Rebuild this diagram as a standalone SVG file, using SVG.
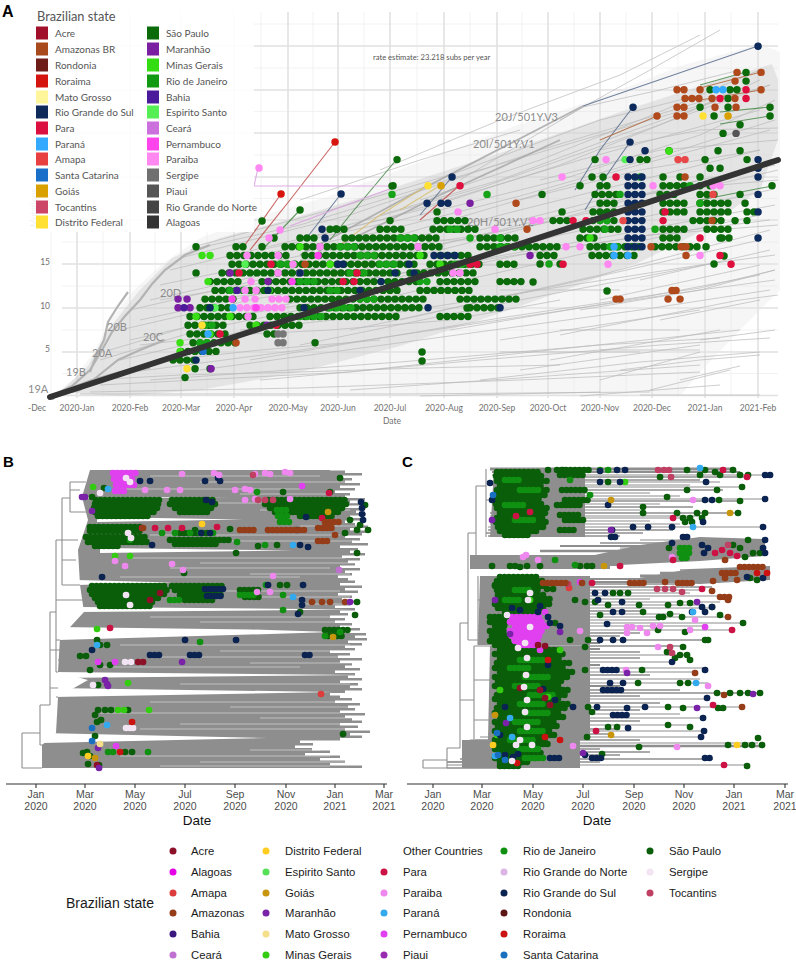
<svg xmlns="http://www.w3.org/2000/svg" width="796" height="960" viewBox="0 0 796 960">
<style>
.gl{stroke:#e1e1e1;stroke-width:1.6;fill:none}
.gm{stroke:#efefef;stroke-width:.8;fill:none}
.t{fill:none;stroke:#b9b9b9;stroke-width:.7}
.ax{font-family:Lato,"Liberation Sans",sans-serif;font-size:8.5px;fill:#707070}
.cl{font-family:Lato,"Liberation Sans",sans-serif;font-size:11px;fill:#8c8c8c}
.lg{font-family:Lato,"Liberation Sans",sans-serif;font-size:10px;fill:#555}
.pa{fill:none;stroke-linecap:round;stroke-width:7.4}
.sa{fill:none;stroke-linecap:round;stroke-width:7.4;stroke-dasharray:0 7}
.q{fill:none;stroke-linecap:round;stroke-width:6.6}
.r{fill:none;stroke-linecap:round;stroke-width:6.6;stroke-dasharray:0 4.5}
.tr{fill:#8e8e8e}
.sk{fill:none;stroke:#8e8e8e;stroke-width:1.1}
.cw{fill:none;stroke:#8e8e8e}
.bt{font-family:"Liberation Sans",Arial,sans-serif;font-size:10.5px;fill:#4d4d4d;text-anchor:middle}
.dt{font-family:"Liberation Sans",Arial,sans-serif;font-size:13.5px;fill:#111;text-anchor:middle}
.lt{font-family:"Liberation Sans",Arial,sans-serif;font-size:11.3px;fill:#1a1a1a}
.pl{font-family:"Liberation Sans",Arial,sans-serif;font-weight:bold;fill:#000}
</style>
<rect width="796" height="960" fill="#fff"/>

<g id="panelA">
<g id="gridA">
<path class="gm" d="M51 12V397M103 12V397M155 12V397M207 12V397M261 12V397M313 12V397M364 12V397M417 12V397M470 12V397M522 12V397M574 12V397M626 12V397M678 12V397M731 12V397M62 373.5H778M62 330H778M62 286H778M62 242H778M62 198.5H778M62 155H778M62 111.5H778M62 68H778M62 24H778"/>
<path class="gl" d="M77 12V398M130 12V398M181 12V398M234 12V398M288 12V398M338 12V398M390 12V398M444 12V398M497 12V398M548 12V398M600 12V398M652 12V398M705 12V398M758 12V398M62 395.5H778M62 352H778M62 308H778M62 264H778M62 220H778M62 177H778M62 133H778M62 90H778M62 46H778"/>
</g>
<g id="treeA">
<path fill="#e4e4e4" opacity=".35" d="M52 396L75 378L95 350L112 318L132 292L162 264L200 238L260 216L330 196L420 162L520 124L600 98L680 66L760 44L780 52L780 290L740 330L700 372L680 396Z"/>
<path fill="#c9c9c9" opacity=".38" d="M60 392L88 366L108 330L138 292L172 258L220 238L300 216L380 192L460 166L540 140L620 112L700 86L772 64L778 80L778 140L760 190L700 232L640 262L560 292L480 320L400 346L300 372L200 390L120 396Z"/>
<path class="t" d="M120 360L420 290L600 250L760 215M130 340L350 290L560 235L770 190M140 320L300 285L500 235L700 180L775 165M150 300L320 262L520 210L760 150M160 285L400 235L620 170L770 130M170 270L380 220L580 160L760 110M180 258L350 215L540 150L740 90M190 250L300 225L480 170L650 120L770 85M200 245L330 210L450 175L600 120L700 95M110 375L300 350L500 320L700 290L775 280M100 385L350 372L550 350L740 330M90 392L300 388L520 380L700 372M80 394L400 394L650 392M150 380L400 362L600 345L720 338M200 370L420 340L640 310L770 290M250 360L500 318L700 288L775 270M300 345L520 300L720 262M350 330L560 285L760 240M400 320L600 275L770 230M450 330L650 296L760 275M500 340L700 310M550 360L720 330M600 380L700 352M650 390L730 370M120 330L250 300L420 270L600 238L775 205M130 310L280 275L460 240L650 200L778 170M160 300L280 280L420 250L560 215L700 180M230 260L380 232L520 196L680 150L775 120M260 250L400 220L560 180L700 135L775 100M300 240L420 210L560 165L660 125L760 80M330 230L480 188L590 150L700 110L770 85M380 215L500 180L620 135L720 100M420 200L540 160L640 120L760 70M460 180L583 107L660 90L740 70M200 300L300 290L450 265L650 235L770 220M240 330L380 315L540 290L700 265L775 255M260 380L480 360L660 345L770 338M350 390L520 378L700 365M420 396L600 392M480 380L640 362L760 352M520 370L700 345M560 335L740 300L778 295M580 310L700 290L775 270M600 300L760 265M640 280L770 250M660 320L760 300M700 340L775 330M580 396L720 385M620 370L700 360L760 355M680 380L740 366M380 170L500 120L620 75L700 35M560 120L650 70L720 30M300 200L420 160L520 130M450 265H560M500 290H620M600 350H700M640 395H760M500 352H640M560 330H680M420 240H520M520 200L640 170L760 150M540 180L660 150L778 140M600 150L700 130L778 128M480 230L600 200L720 185L778 180M400 280L520 255L650 235L778 225M100 360L200 330L300 310L420 300M110 350L210 320L330 300M140 345L230 335L330 330L450 320L560 300M170 360L260 350L380 340M90 380L180 375L300 372L420 368L560 365M300 260L380 250L480 235L560 220"/>
<path fill="none" stroke="#b3b3b3" stroke-width="2.2" d="M52 396L72 386L90 370L102 350L112 332L125 316L140 300L152 284L165 270L185 255L210 245M52 396L80 390L98 376L118 360L140 350L165 340M60 392L92 380L120 372L150 368M90 372L96 356L104 340L108 322L118 306L128 292"/>
<g fill="none" stroke-width="1.1" opacity=".85">
<path stroke="#a9a9a9" stroke-width="1.8" d="M300 255L420 190L583 106M330 250L440 195L560 140"/>
<path stroke="#5b6f8f" d="M583 106L758 46M633 107L600 150L575 190M630 142L602 182L585 210M341 194L305 240M452 177L420 215"/>
<path stroke="#c0504d" d="M335 142L290 200L250 250M281 194L245 245M460 185L420 220"/>
<path stroke="#4a8a4a" d="M397 159L350 215L330 240M300 210L262 250M770 107L720 112M770 116L720 124M772 186L700 200M746 72L700 85"/>
<path stroke="#d9a0e0" d="M258 168L254 186H392M392 188L290 226"/>
<path stroke="#d8c070" d="M428 185L380 215L340 245M441 185L400 210"/>
<path stroke="#b06a40" d="M761 72L700 88M761 90L700 100M657 116L600 140"/>
</g>
<circle cx="52" cy="397" r="3" fill="#aaa"/>
</g>
<g id="cladesA">
<text class="cl" x="28" y="393">19A</text>
<text class="cl" x="66" y="376">19B</text>
<text class="cl" x="92" y="357">20A</text>
<text class="cl" x="107" y="331">20B</text>
<text class="cl" x="143" y="341">20C</text>
<text class="cl" x="160" y="297">20D</text>
<text class="cl" x="467" y="226">20H/501Y.V2</text>
<text class="cl" x="473" y="148">20I/501Y.V1</text>
<text class="cl" x="495" y="121">20J/501Y.V3</text>
<text x="373" y="60" font-family="Lato,'Liberation Sans',sans-serif" font-size="7.6" fill="#555">rate estimate: 23.218 subs per year</text>
</g>
<g id="dotsA">
<path class="sa" stroke="#0b6b0b" d="M173 360.1H201M181 351.4H223M193 342.7H241M190 334H232M267 334H281M188 325.2H230M250 325.2H300M190 316.5H260M270 316.5H400M440 316.5H470M200 307.8H230M300 307.8H420M470 307.8H500M205 299.1H240M290 299.1H430M460 299.1H520M215 290.4H400M420 290.4H470M210 281.6H245M262 281.6H420M440 281.6H480M500 281.6H525M222 272.9H400M410 272.9H480M232 264.2H420M430 264.2H480M500 264.2H520M230 255.5H290M305 255.5H430M440 255.5H470M540 255.5H560M592 255.5H640M236 246.8H250M285 246.8H440M480 246.8H560M590 246.8H640M655 246.8H700M300 238H320M345 238H440M480 238H520M580 238H600M663 238H680M722 238H730M330 229.3H350M380 229.3H407M433 229.3H477M583 229.3H620M663 229.3H690M707 229.3H730M437 220.6H470M553 220.6H571M593 220.6H620M693 220.6H727M747 220.6H753M593 211.9H620M663 211.9H690M700 211.9H730M747 211.9H760M600 203.2H620M663 203.2H690M700 203.2H730M595 194.4H620M660 194.4H680M700 194.4H720M600 185.7H613M663 185.7H690M640 159.6H650M730 89.8H740"/>
<path class="pa" stroke="#0b6b0b" d="M185 377.6h.1M195 368.8h.1M210 368.8h.1M315 342.7h.1M196 272.9h.1M196 246.8h.1M262 246.8h.1M390 220.6h.1M437 211.9h.1M562 211.9h.1M542 194.4h.1M393 185.7h.1M580 185.7h.1M700 185.7h.1M710 185.7h.1M772 185.7h.1M592 177h.1M603 177h.1M663 177h.1M680 177h.1M700 177h.1M710 168.3h.1M720 168.3h.1M397 159.6h.1M595 159.6h.1M705 159.6h.1M747 159.6h.1M669 150.8h.1M718 150.8h.1M740 150.8h.1M723 133.4h.1M740 124.7h.1M714 116h.1M770 116h.1M700 107.2h.1M728 107.2h.1M770 107.2h.1M728 98.5h.1M710 89.8h.1M746 81.1h.1M746 72.4h.1M392 186h.1M300 210h.1M262 221h.1M274 238h.1M336 229h.1M422 352h.1M422 361h.1M467 308h.1M607 291h.1M714 264h.1M724 256h.1M540 264h.1M560 264h.1M533 282h.1M720 238h.1M706 246.8h.1M740 194.4h.1M745 203.2h.1M735 220.6h.1"/>
<path class="sa" stroke="#17a317" d="M200 342.7H214M205 325.2H219M300 316.5H328M330 307.8H358M360 299.1H380M230 290.4H250M330 290.4H344M300 281.6H321M350 272.9H371M280 264.2H301M380 264.2H401M360 255.5H381M340 246.8H361M500 246.8H521M400 238H421M450 229.3H464M600 220.6H614M455 264.2H476M420 281.6H434M610 246.8H624"/>
<path class="pa" stroke="#17a317" d="M620 194.4h.1M690 185.7h.1M640 177h.1M605 229.3h.1M700 203.2h.1M392 194.4h.1M470 238h.1M500 238h.1M549 264h.1M487 194.4h.1M655 229.3h.1"/>
<path class="pa" stroke="#3ade14" d="M202 255.5h.1M210 255.5h.1M208 281.6h.1M180 342.7h.1M180 351.4h.1M196 316.5h.1M256 325.2h.1M269 290.4h.1M300 246.8h.1M330 264.2h.1M210 334h.1M230 316.5h.1M420 255.5h.1M440 264.2h.1M590 238h.1M669 151h.1"/>
<path class="pa" stroke="#55f055" d="M215 307.8h.1M245 264.2h.1M625 159.6h.1"/>
<path class="sa" stroke="#ff88f2" d="M240 307.8H289M272 299.1H290"/>
<path class="pa" stroke="#ff88f2" d="M245 299.1h.1M255 299.1h.1M245 290.4h.1M256 290.4h.1M251 281.6h.1M278 272.9h.1M300 272.9h.1M293 264.2h.1M247 255.5h.1M278 255.5h.1M248 316.5h.1M320 246.8h.1M269 238h.1M280 230h.1M259 168h.1M418 246.8h.1M566 246.8h.1M580 246.8h.1M453 272.9h.1M460 272.9h.1M606 159.6h.1M495 229.3h.1M533 220.6h.1M540 220.6h.1M458 211.9h.1M562 177h.1M713 185.7h.1M720 185.7h.1M608 264.2h.1M700 255.5h.1M653 185.7h.1"/>
<path class="pa" stroke="#ff44ee" d="M256 307.8h.1M292 281.6h.1M318 255.5h.1M232 299.1h.1"/>
<path class="sa" stroke="#0d2a5c" d="M628 246.8H648M628 238H648M628 229.3H648M628 220.6H648M628 211.9H648M628 203.2H648M628 194.4H648M628 185.7H648M628 177H648M441 203.2H449M434 255.5H462"/>
<path class="pa" stroke="#0d2a5c" d="M196 360.1h.1M210 307.8h.1M268 290.4h.1M300 272.9h.1M338 264.2h.1M343 264.2h.1M322 229.3h.1M325 238h.1M341 194h.1M452 177h.1M428 307.8h.1M500 307.8h.1M409 264.2h.1M427 203.2h.1M645 150.8h.1M630 142.1h.1M633 107.2h.1M630 159.6h.1M758 46.2h.1M758 159.6h.1M758 168.3h.1M758 177h.1M758 194.4h.1M758 211.9h.1M758 238h.1M304 307.8h.1M360 290.4h.1M395 272.9h.1M414 272.9h.1M381 281.6h.1"/>
<path class="pa" stroke="#e0103e" d="M239 272.9h.1M271 264.2h.1M357 272.9h.1M343 281.6h.1M354 281.6h.1M220 334h.1M276 325.2h.1M460 185.7h.1M470 264.2h.1M477 264.2h.1M563 264.2h.1M573 220.6h.1M586 220.6h.1M616 177h.1M663 220.6h.1M665 211.9h.1M720 98.5h.1M746 98.5h.1M746 89.8h.1M720 255.5h.1M700 238h.1M731 264.2h.1"/>
<path class="pa" stroke="#d8140e" d="M281 194h.1M335 142h.1"/>
<path class="pa" stroke="#e84848" d="M678 159.6h.1M685 159.6h.1M623 220.6h.1M713 194.4h.1"/>
<path class="sa" stroke="#b04a1c" d="M677 116H690M677 107.2H690M715 107.2H722M685 98.5H700M735 98.5H742M677 89.8H690"/>
<path class="pa" stroke="#b04a1c" d="M657 116h.1M736 107.2h.1M712 98.5h.1M700 89.8h.1M761 89.8h.1M735 81.1h.1M737 72.4h.1M761 72.4h.1M516 203.2h.1M305 264.2h.1M236 342.7h.1M651 246.8h.1M681 246.8h.1M686 246.8h.1M686 255.5h.1M616 299.1h.1M620 299.1h.1M668 299.1h.1M680 299.1h.1M672 290.4h.1M676 290.4h.1M527 229.3h.1M685 177h.1M712 220.6h.1"/>
<path class="pa" stroke="#7a1fa2" d="M178 299.1h.1M187 299.1h.1M178 307.8h.1M190 307.8h.1M230 272.9h.1M268 281.6h.1M211 368.8h.1M470 203.2h.1M267 325.2h.1M530 255.5h.1"/>
<path class="pa" stroke="#4a1a9a" d="M237 290.4h.1M184 307.8h.1"/>
<path class="pa" stroke="#33aaff" d="M233 307.8h.1M208 334h.1M614 246.8h.1M614 255.5h.1M628 255.5h.1M716 89.8h.1M723 89.8h.1"/>
<path class="pa" stroke="#1a6fc8" d="M203 351.4h.1"/>
<path class="pa" stroke="#ffe033" d="M187 368.8h.1M202 325.2h.1M428 185.7h.1M703 116h.1"/>
<path class="pa" stroke="#d8a000" d="M441 185.7h.1M728 116h.1"/>
<path class="pa" stroke="#777" d="M278 334h.1M283 334h.1M278 342.7h.1M283 342.7h.1"/>
<path class="pa" stroke="#555" d="M736 133.4h.1"/>
</g>
<path id="regressionA" d="M50 397L778 160" stroke="#333" stroke-width="6" stroke-linecap="round"/>
<g id="axisA">
<text class="ax" x="50" y="265" text-anchor="end">15</text>
<text class="ax" x="50" y="309" text-anchor="end">10</text>
<text class="ax" x="50" y="352" text-anchor="end">5</text>
<text class="ax" x="28" y="411">-Dec</text>
<g text-anchor="middle">
<text class="ax" x="77" y="411">2020-Jan</text>
<text class="ax" x="130" y="411">2020-Feb</text>
<text class="ax" x="181" y="411">2020-Mar</text>
<text class="ax" x="234" y="411">2020-Apr</text>
<text class="ax" x="288" y="411">2020-May</text>
<text class="ax" x="338" y="411">2020-Jun</text>
<text class="ax" x="390" y="411">2020-Jul</text>
<text class="ax" x="444" y="411">2020-Aug</text>
<text class="ax" x="497" y="411">2020-Sep</text>
<text class="ax" x="548" y="411">2020-Oct</text>
<text class="ax" x="600" y="411">2020-Nov</text>
<text class="ax" x="652" y="411">2020-Dec</text>
<text class="ax" x="705" y="411">2021-Jan</text>
<text class="ax" x="758" y="411">2021-Feb</text>
<text class="ax" x="392" y="424">Date</text>
</g>
<text class="ax" fill="#999" transform="translate(37 227) rotate(-90)">Mutations</text>
</g>
<g id="legendA">
<rect x="27" y="4" width="227" height="228" fill="#fff" opacity=".9"/>
<text x="37" y="21" font-family="Lato,'Liberation Sans',sans-serif" font-size="12.8" fill="#555">Brazilian state</text>
<rect x="36" y="26.5" width="12" height="13" fill="#a0102a"/><text class="lg" x="55" y="37">Acre</text>
<rect x="36" y="42.5" width="12" height="13" fill="#a84a1c"/><text class="lg" x="55" y="53">Amazonas BR</text>
<rect x="36" y="58.5" width="12" height="13" fill="#6e1c18"/><text class="lg" x="55" y="69">Rondonia</text>
<rect x="36" y="74.5" width="12" height="13" fill="#d4140e"/><text class="lg" x="55" y="85">Roraima</text>
<rect x="36" y="90.5" width="12" height="13" fill="#fff59a"/><text class="lg" x="55" y="101">Mato Grosso</text>
<rect x="36" y="105.5" width="12" height="13" fill="#0d2a5a"/><text class="lg" x="55" y="116">Rio Grande do Sul</text>
<rect x="36" y="121.5" width="12" height="13" fill="#dc1040"/><text class="lg" x="55" y="132">Para</text>
<rect x="36" y="137.5" width="12" height="13" fill="#33aaff"/><text class="lg" x="55" y="148">Paraná</text>
<rect x="36" y="152.5" width="12" height="13" fill="#e84040"/><text class="lg" x="55" y="163">Amapa</text>
<rect x="36" y="168.5" width="12" height="13" fill="#1a6fc8"/><text class="lg" x="55" y="179">Santa Catarina</text>
<rect x="36" y="184.5" width="12" height="13" fill="#d8a000"/><text class="lg" x="55" y="195">Goiás</text>
<rect x="36" y="200.5" width="12" height="13" fill="#cc4466"/><text class="lg" x="55" y="211">Tocantins</text>
<rect x="36" y="215.5" width="12" height="13" fill="#ffe033"/><text class="lg" x="55" y="226">Distrito Federal</text>
<rect x="147" y="26.5" width="12" height="13" fill="#0b6b0b"/><text class="lg" x="166" y="37">São Paulo</text>
<rect x="147" y="42.5" width="12" height="13" fill="#7b1fa2"/><text class="lg" x="166" y="53">Maranhão</text>
<rect x="147" y="58.5" width="12" height="13" fill="#33dd11"/><text class="lg" x="166" y="69">Minas Gerais</text>
<rect x="147" y="74.5" width="12" height="13" fill="#119911"/><text class="lg" x="166" y="85">Rio de Janeiro</text>
<rect x="147" y="90.5" width="12" height="13" fill="#4a1a9a"/><text class="lg" x="166" y="101">Bahia</text>
<rect x="147" y="105.5" width="12" height="13" fill="#55ee55"/><text class="lg" x="166" y="116">Espirito Santo</text>
<rect x="147" y="121.5" width="12" height="13" fill="#cc70dd"/><text class="lg" x="166" y="132">Ceará</text>
<rect x="147" y="137.5" width="12" height="13" fill="#ff44ee"/><text class="lg" x="166" y="148">Pernambuco</text>
<rect x="147" y="152.5" width="12" height="13" fill="#ff88f0"/><text class="lg" x="166" y="163">Paraiba</text>
<rect x="147" y="168.5" width="12" height="13" fill="#707070"/><text class="lg" x="166" y="179">Sergipe</text>
<rect x="147" y="184.5" width="12" height="13" fill="#555"/><text class="lg" x="166" y="195">Piaui</text>
<rect x="147" y="200.5" width="12" height="13" fill="#444"/><text class="lg" x="166" y="211">Rio Grande do Norte</text>
<rect x="147" y="215.5" width="12" height="13" fill="#333"/><text class="lg" x="166" y="226">Alagoas</text>
</g>
<text class="pl" x="2" y="17" font-size="16">A</text>
</g>

<g id="panelB">
<text class="pl" x="3" y="467" font-size="15">B</text>
<path class="tr" d="M42 768H362V765.5H330V763H345V760.5H320V758H340V755.5H305V753H330V750.5H312V748H295V745.5H313V743H300V740.5H340V738H362V735.5H350V733H370V730.5H345V728H358V725.5H340V723H362V720.5H352V718H345V715.5H365V713H340V710.5H355V708H348V705.5H360V703H335V700.5H352V698H340V695.5H330V693H345V690.5H362V688H350V685.5H358V683H340V680.5H362V678H348V675.5H355V673H335V670.5H360V668H345V665.5H352V663H340V660.5H362V658H338V655.5H350V653H330V650.5H355V648H345V645.5H362V643H348V640.5H367V638H355V635.5H366V633H345V630.5H360V628H340V625.5H352V623H335V620.5H345V618H330V615.5H348V613H340V610.5H355V608H335V605.5H350V603H358V600.5H342V598H352V595.5H338V593H358V590.5H345V588H362V585.5H340V583H355V580.5H348V578H338V575.5H352V573H345V570.5H360V568H340V565.5H355V563H348V560.5H360V558H342V555.5H365V553H350V550.5H358V548H340V545.5H368V543H352V540.5H360V538H345V535.5H362V533H366V530.5H350V528H368V525.5H355V523H345V520.5H362V518H350V515.5H366V513H356V510.5H362V508H345V505.5H360V503H350V500.5H365V498H345V495.5H350V493H335V490.5H355V488H340V485.5H360V483H345V480.5H352V478H340V475.5H362V473H345V470.5H330V470H90L82 497L88 520L78 550L80 585L84 612L60 638L58 672L88 680L58 697L56 733L42 745Z"/>
<path fill="#fff" d="M83 497L230 497.6L83 498.4ZM97 517L243 519.5L97 522ZM100 548L293 550.5L100 553ZM77 580L173 582.5L77 585ZM80 607L353 609.5L80 612ZM58 627L250 629.5L333 632L250 634.5L58 640ZM53 672L363 675L53 678ZM53 688L333 692L53 697ZM42 733L267 738L42 743Z"/>
<path fill="none" stroke="#fff" stroke-width=".6" opacity=".75" d="M150 476H320M200 482H350M120 489H300M240 494H330M180 503H360M260 510H350M300 526H360M150 535H340M220 541H355M130 558H345M200 563H360M170 568H330M250 574H350M120 577H300M200 591H340M260 597H350M300 604H355M150 617H330M200 622H340M120 645H350M220 651H355M150 657H340M250 663H360M100 667H300M180 684H350M150 702H360M230 707H350M100 713H340M260 718H360M180 724H355M140 729H345M250 750H320M120 756H330M200 762H350M160 766H330"/>
<path class="sk" d="M22 733V768M22 768H42M22 733H40M40 705V745M40 745H56M40 705H50M50 612V705M50 612H56M56 540V672M56 672H58M56 540H62M62 498V585M62 585H80M62 498H70M70 482V512M70 482H86M70 512H88M56 600H84M50 688H58M50 650H58M62 540H78M62 560H76M70 490H80M58 650H70M58 660H75M58 700H70M58 720H66M45 755H55M45 762H70M56 640H60M56 697H58"/>
<g id="dotsB">
<path class="r" stroke="#0a5e0a" d="M96 500H160M95 504H160M94 508H160M95 512H158M98 516H150M172 500H215M170 504H218M175 508H215M180 512H210M268 500H345M265 504H350M270 508H345M275 512H340M300 516H335M90 527H142M90 531H140M86 537H145M88 542H150M95 546H120M170 540H230M175 544H220M180 533H215M92 586H165M90 590H168M92 594H165M95 598H160M98 602H155M100 606H150M172 586H225M175 590H220M180 595H225M185 600H215M240 590H262M245 597H260M325 630H352M328 636H345"/>
<path class="q" stroke="#0a5e0a" d="M340 478h.1M283 492h.1M104 488h.1M92 497h.1M345 533h.1M357 530h.1M368 530h.1M258 546h.1M277 545h.1M357 553h.1M184 573h.1M280 585h.1M287 585h.1M300 612h.1M355 615h.1M97 640h.1M100 645h.1M107 645h.1M80 656h.1M86 656h.1M100 665h.1M110 665h.1M90 670h.1M98 685h.1M98 710h.1M105 710h.1M111 710h.1M128 710h.1M95 715h.1M97 722h.1M101 720h.1M95 736h.1M343 734h.1M87 752h.1M83 753h.1M90 756h.1M125 752h.1M132 752h.1M88 764h.1M99 765h.1M357 602h.1M230 529h.1M195 530h.1M330 492h.1M360 525h.1M236 553h.1M350 520h.1M365 505h.1"/>
<path class="r" stroke="#109010" d="M277 510H290M278 516H291M280 522H290M240 595H258M170 600H180"/>
<path class="q" stroke="#109010" d="M257 492h.1M162 533h.1M175 533h.1M190 533h.1M200 533h.1M213 533h.1M265 545h.1M237 542h.1M283 595h.1M283 610h.1M200 642h.1M266 585h.1M108 752h.1M113 752h.1M130 540h.1M325 636h.1M148 752h.1M340 632h.1"/>
<path class="q" stroke="#33cc11" d="M93 487h.1M97 629h.1M118 710h.1M124 710h.1M149 710h.1M128 683h.1M115 556h.1M130 556h.1"/>
<path class="r" stroke="#0a2350" d="M205 589H225M207 596H222M150 655H161M190 655H201M305 655H311"/>
<path class="q" stroke="#0a2350" d="M140 481h.1M150 481h.1M205 481h.1M218 478h.1M220 481h.1M206 500h.1M212 502h.1M361 502h.1M362 508h.1M362 514h.1M363 520h.1M306 517h.1M201 533h.1M210 533h.1M297 530h.1M152 545h.1M300 545h.1M308 547h.1M102 577h.1M268 585h.1M303 585h.1M302 600h.1M302 605h.1M185 640h.1M236 640h.1M92 650h.1M298 614h.1"/>
<path class="r" stroke="#e040f0" d="M113 473H140M114 479H135M116 485H135M115 491H125"/>
<path class="q" stroke="#e040f0" d="M302 486h.1M116 746h.1M98 662h.1M115 662h.1"/>
<path class="q" stroke="#ee88ee" d="M182 474h.1M214 473h.1M219 475h.1M255 474h.1M265 473h.1M270 474h.1M285 472h.1M290 473h.1M145 490h.1M167 490h.1M180 490h.1M235 490h.1M245 489h.1M250 490h.1M255 499h.1M245 500h.1M290 499h.1M115 561h.1M125 566h.1M172 564h.1M183 570h.1M273 576h.1M257 592h.1M270 592h.1"/>
<path class="q" stroke="#f2e4f2" d="M126 478h.1M130 482h.1M100 493h.1M128 533h.1M131 538h.1M126 595h.1M130 605h.1M125 662h.1M131 662h.1M93 685h.1M126 728h.1M130 728h.1M133 728h.1"/>
<path class="q" stroke="#c04064" d="M253 475h.1M258 500h.1M265 500h.1M273 500h.1"/>
<path class="q" stroke="#cc1144" d="M329 493h.1M142 528h.1M155 528h.1M168 528h.1M182 528h.1M217 527h.1M110 628h.1M322 518h.1"/>
<path class="q" stroke="#cc1111" d="M132 722h.1M120 752h.1"/>
<path class="q" stroke="#dd3c3c" d="M321 694h.1"/>
<path class="r" stroke="#953d18" d="M240 530H255M268 530H305M318 528H333M318 541H328M325 522H340"/>
<path class="q" stroke="#953d18" d="M143 528h.1M312 602h.1M322 602h.1M330 602h.1M345 602h.1M335 535h.1"/>
<path class="q" stroke="#8b1028" d="M138 662h.1M143 662h.1M97 765h.1M150 600h.1M160 593h.1"/>
<path class="q" stroke="#7a22a8" d="M82 497h.1M85 497h.1M92 511h.1M350 602h.1M182 662h.1M105 680h.1M107 684h.1M108 686h.1M98 748h.1M99 768h.1"/>
<path class="q" stroke="#c070d0" d="M339 570h.1"/>
<path class="q" stroke="#33aaee" d="M108 489h.1M293 545h.1M293 597h.1M97 645h.1M107 725h.1"/>
<path class="q" stroke="#1a70c0" d="M92 728h.1M92 741h.1"/>
<path class="q" stroke="#c8960c" d="M328 512h.1M95 758h.1M333 637h.1"/>
<path class="q" stroke="#ffcc22" d="M88 756h.1M202 524h.1"/>
<path class="q" stroke="#f5de8a" d="M100 744h.1"/>
</g>
<g id="axisB">
<path stroke="#333" stroke-width="1.1" fill="none" d="M6 784H387M36 784V788M85 784V788M135 784V788M185 784V788M235 784V788M286 784V788M335 784V788M384 784V788"/>
<text class="bt" x="36" y="798">Jan</text><text class="bt" x="36" y="810">2020</text>
<text class="bt" x="85" y="798">Mar</text><text class="bt" x="85" y="810">2020</text>
<text class="bt" x="135" y="798">May</text><text class="bt" x="135" y="810">2020</text>
<text class="bt" x="185" y="798">Jul</text><text class="bt" x="185" y="810">2020</text>
<text class="bt" x="235" y="798">Sep</text><text class="bt" x="235" y="810">2020</text>
<text class="bt" x="286" y="798">Nov</text><text class="bt" x="286" y="810">2020</text>
<text class="bt" x="335" y="798">Jan</text><text class="bt" x="335" y="810">2021</text>
<text class="bt" x="384" y="798">Mar</text><text class="bt" x="384" y="810">2021</text>
<text class="dt" x="197" y="825">Date</text>
</g>
</g>

<g id="panelC">
<text class="pl" x="402" y="467" font-size="15">C</text>
<path class="tr" d="M494 468H585V537H490ZM470 555H610V569H470ZM545 566L640 545L700 537L765 539V556L700 561L600 566ZM640 578L690 569L770 566V580L700 584L640 582ZM480 576H590V645H478ZM490 646H590V740H488ZM462 740H580V768H462Z"/>
<path class="cw" stroke-width="1.2" d="M492 475H767M495 482H720M495 485H690M493 487H743M495 493H650M495 496H680M493 499H767M495 504H660M495 510H640M490 516H700M490 518H693M492 521H650M490 524H680M488 527H765M640 540H763M620 548H762M660 553H765M488 590H702M488 593H690M490 596H730M488 599H650M488 602H720M490 605H700M490 608H712M485 614H680M485 617H728M483 620H660M480 623H744M478 626H705M478 630H732M495 655H690M495 662H672M495 668H705M493 672H695M495 679H700M495 683H708M493 699H707M493 707H742M493 714H680M493 718H703M493 725H690M490 731H704M480 737H701M472 743H758M447 765H747"/>
<path class="cw" stroke-width="1.5" d="M495 477H747M495 480H700M493 490H723M493 501H740M493 507H693M490 513H738M488 530H673M486 533H643M488 536H620M600 543H750M470 568H545M680 570H767M490 584H695M490 587H712M488 611H640M478 633H640M478 636H620M480 640H708M500 646H683M495 652H640M493 658H640M495 675H650M495 690H680M493 693H762M495 696H640M493 703H660M495 710H640M493 721H640M490 729H620M488 734H611M475 740H640M470 749H600M465 752H650M465 755H620M460 759H713M447 762H600M447 768H520"/>
<path class="cw" stroke-width="2" d="M492 472H740M560 546H740M480 556H700M472 562H650M470 565H620M500 579H740M495 582H720M478 643H600M500 649H600M493 665H600M495 686H620"/>
<path class="cw" stroke-width="2.6" d="M540 551H740M475 559H680M660 573H770M470 746H762"/>
<path class="cw" stroke-width="3" d="M490 469H735M640 576H760"/>
<path class="sk" d="M423 760V768M423 768H447M423 760H447M447 748V768M447 748H460M460 623V748M460 623H468M468 533V640M468 533H476M476 486V556M476 486H486M486 469V537M468 640H478M478 576V645M460 700H474M474 646V740M474 646H492M447 762H462M476 556H472M472 556V568M474 740H470M478 600H486M474 680H490M474 720H490M486 500H490"/>
<g id="dotsC">
<path class="r" stroke="#0a5e0a" d="M497 472H540M496 476H545M497 481H548M500 486H545M497 490H550M495 495H545M498 499H540M496 504H545M497 508H550M500 513H548M497 518H545M496 522H550M498 527H545M500 531H540M505 535H530M557 470H590M560 475H585M562 490H585M565 500H590M557 505H580M560 515H580M565 520H585M560 530H575M500 577H540M497 581H545M495 586H548M497 590H540M498 595H545M500 599H550M495 604H552M498 608H545M505 612H540M490 617H510M490 622H510M495 626H508M490 631H505M492 636H510M490 641H512M495 645H515M500 650H560M495 654H565M500 659H560M497 663H570M495 668H565M500 672H575M495 677H570M498 681H565M495 686H560M500 690H570M497 695H565M495 699H560M500 704H570M497 708H565M495 713H560M500 717H565M495 722H555M498 726H560M495 731H550M500 735H555M495 740H545M498 744H550M495 749H540M500 753H545M495 758H540M500 762H530M500 766H520"/>
<path class="q" stroke="#0a5e0a" d="M687 470h.1M705 470h.1M715 472h.1M733 470h.1M660 477h.1M700 475h.1M720 475h.1M740 475h.1M748 475h.1M742 487h.1M687 490h.1M717 490h.1M667 497h.1M719 500h.1M740 501h.1M643 507h.1M643 513h.1M677 513h.1M697 513h.1M705 513h.1M738 513h.1M683 518h.1M690 518h.1M702 518h.1M685 522h.1M692 522h.1M608 482h.1M563 470h.1M548 470h.1M492 566h.1M510 566h.1M515 566h.1M520 567h.1M527 566h.1M540 566h.1M580 566h.1M587 566h.1M592 566h.1M669 548h.1M733 545h.1M740 548h.1M748 540h.1M753 553h.1M760 553h.1M745 557h.1M750 578h.1M757 580h.1M495 585h.1M547 589h.1M553 589h.1M613 593h.1M620 593h.1M628 593h.1M575 600h.1M585 602h.1M595 602h.1M608 605h.1M639 605h.1M668 605h.1M680 603h.1M690 603h.1M712 607h.1M600 615h.1M659 617h.1M663 617h.1M682 617h.1M720 615h.1M643 612h.1M670 614h.1M555 623h.1M743 623h.1M658 630h.1M685 632h.1M570 640h.1M588 640h.1M705 640h.1M708 640h.1M683 647h.1M585 647h.1M667 652h.1M680 655h.1M687 655h.1M690 660h.1M675 658h.1M585 670h.1M642 670h.1M680 683h.1M688 683h.1M638 683h.1M717 693h.1M730 693h.1M740 693h.1M748 693h.1M760 693h.1M668 707h.1M683 708h.1M718 708h.1M723 708h.1M588 707h.1M592 712h.1M668 725h.1M690 727h.1M608 727h.1M617 727h.1M587 737h.1M758 738h.1M728 745h.1M745 745h.1M752 745h.1M762 745h.1M639 747h.1M602 754h.1M747 766h.1"/>
<path class="r" stroke="#109010" d="M520 490H540M505 480H520M505 505H525M515 520H535M515 590H530M505 600H520M520 660H545M510 668H530M525 677H550M515 686H540M530 695H555M520 704H545M525 713H550M515 722H540M520 731H545M510 740H535M520 749H540M525 758H545M680 548H690M680 553H690M682 558H690"/>
<path class="q" stroke="#109010" d="M600 470h.1M570 480h.1M590 495h.1M608 470h.1M555 560h.1M575 565h.1"/>
<path class="q" stroke="#33cc11" d="M497 735h.1M500 690h.1M530 600h.1M560 650h.1M548 697h.1M625 482h.1"/>
<path class="r" stroke="#e040f0" d="M512 617H540M510 622H545M515 626H547M510 631H545M512 636H542M515 641H540M520 645H535"/>
<path class="q" stroke="#e040f0" d="M545 612h.1M540 650h.1M705 627h.1M580 582h.1"/>
<path class="q" stroke="#ee88ee" d="M523 557h.1M526 555h.1M538 560h.1M672 557h.1M693 500h.1M627 627h.1M632 627h.1M640 628h.1M653 626h.1M660 626h.1M627 633h.1M647 633h.1M690 630h.1M580 631h.1M658 647h.1M626 670h.1M708 686h.1M677 747h.1M573 746h.1M695 620h.1"/>
<path class="r" stroke="#0a2350" d="M550 758H563M592 758H603M705 758H713M603 670H617M603 690H623M613 715H627"/>
<path class="q" stroke="#0a2350" d="M600 471h.1M617 470h.1M625 470h.1M600 482h.1M620 482h.1M706 482h.1M765 475h.1M770 475h.1M608 505h.1M705 500h.1M712 500h.1M765 499h.1M703 522h.1M633 527h.1M648 527h.1M672 527h.1M763 527h.1M612 530h.1M611 537h.1M615 537h.1M672 543h.1M683 537h.1M687 537h.1M702 545h.1M708 548h.1M704 553h.1M765 540h.1M765 553h.1M763 548h.1M763 578h.1M747 577h.1M595 593h.1M605 593h.1M622 602h.1M613 612h.1M622 612h.1M692 612h.1M705 612h.1M702 607h.1M712 607h.1M598 600h.1M607 624h.1M550 623h.1M560 626h.1M600 640h.1M613 640h.1M623 640h.1M672 662h.1M705 670h.1M610 683h.1M623 683h.1M707 698h.1M645 707h.1M627 708h.1M597 707h.1M573 707h.1M703 718h.1M704 731h.1M628 728h.1M701 737h.1M585 755h.1M540 606h.1M512 608h.1M520 610h.1M538 612h.1M505 755h.1M513 757h.1M518 754h.1M548 617h.1M500 735h.1M505 707h.1M548 665h.1M543 689h.1M555 700h.1M490 483h.1M492 500h.1"/>
<path class="q" stroke="#cc1144" d="M723 470h.1M747 477h.1M673 518h.1M673 560h.1M620 566h.1M715 553h.1M722 550h.1M730 553h.1M737 556h.1M702 589h.1M732 630h.1M713 705h.1M724 765h.1M596 731h.1M592 583h.1M516 516h.1M530 512h.1"/>
<path class="q" stroke="#cc1111" d="M757 573h.1M767 573h.1M545 737h.1M560 740h.1M517 763h.1M548 660h.1"/>
<path class="q" stroke="#dd3c3c" d="M569 588h.1"/>
<path class="q" stroke="#c04064" d="M658 470h.1M664 470h.1M669 470h.1M671 477h.1M728 545h.1M568 584h.1M657 589h.1M665 589h.1M673 589h.1M682 592h.1M670 647h.1M672 653h.1"/>
<path class="r" stroke="#953d18" d="M722 573H738M740 567H767M720 597H730M543 583H570M630 583H647M678 583H695"/>
<path class="q" stroke="#953d18" d="M582 583h.1M665 582h.1M713 581h.1M725 578h.1M737 580h.1M712 591h.1M728 600h.1M728 617h.1M695 673h.1M724 695h.1M742 707h.1M725 560h.1"/>
<path class="q" stroke="#8b1028" d="M538 645h.1M545 646h.1M540 690h.1M545 698h.1M550 705h.1M520 688h.1"/>
<path class="q" stroke="#7a22a8" d="M611 530h.1M697 602h.1M753 694h.1M697 708h.1M583 753h.1M627 673h.1M495 600h.1M510 634h.1M506 723h.1M560 632h.1M492 520h.1"/>
<path class="q" stroke="#33aaee" d="M700 468h.1M693 527h.1M693 612h.1M696 683h.1M510 718h.1M512 737h.1M495 756h.1"/>
<path class="q" stroke="#1a70c0" d="M497 733h.1M498 755h.1M505 760h.1M493 495h.1"/>
<path class="q" stroke="#c8960c" d="M611 500h.1M730 513h.1M604 566h.1M611 735h.1M495 715h.1"/>
<path class="q" stroke="#ffcc22" d="M493 745h.1M737 745h.1"/>
<path class="q" stroke="#f2e4f2" d="M530 593h.1M528 600h.1M525 643h.1M518 648h.1M530 627h.1M527 658h.1M507 615h.1M526 675h.1M524 687h.1M527 700h.1M525 712h.1M527 727h.1M520 740h.1M532 745h.1M512 761h.1M516 745h.1"/>
</g>
<g id="axisC">
<path stroke="#333" stroke-width="1.1" fill="none" d="M407 784H788M433 784V788M482 784V788M533 784V788M583 784V788M634 784V788M684 784V788M734 784V788M785 784V788"/>
<text class="bt" x="433" y="798">Jan</text><text class="bt" x="433" y="810">2020</text>
<text class="bt" x="482" y="798">Mar</text><text class="bt" x="482" y="810">2020</text>
<text class="bt" x="533" y="798">May</text><text class="bt" x="533" y="810">2020</text>
<text class="bt" x="583" y="798">Jul</text><text class="bt" x="583" y="810">2020</text>
<text class="bt" x="634" y="798">Sep</text><text class="bt" x="634" y="810">2020</text>
<text class="bt" x="684" y="798">Nov</text><text class="bt" x="684" y="810">2020</text>
<text class="bt" x="734" y="798">Jan</text><text class="bt" x="734" y="810">2021</text>
<text class="bt" x="785" y="798">Mar</text><text class="bt" x="785" y="810">2021</text>
<text class="dt" x="597" y="825">Date</text>
</g>
</g>

<g id="legendBC">
<text x="66" y="908" font-family="'Liberation Sans',Arial,sans-serif" font-size="14" fill="#1a1a1a">Brazilian state</text>
<g>
<circle cx="173" cy="851" r="3.5" fill="#8b1028"/><text class="lt" x="191" y="855">Acre</text>
<circle cx="173" cy="872" r="3.5" fill="#e600e6"/><text class="lt" x="191" y="876">Alagoas</text>
<circle cx="173" cy="893" r="3.5" fill="#dd3c3c"/><text class="lt" x="191" y="897">Amapa</text>
<circle cx="173" cy="913" r="3.5" fill="#953d18"/><text class="lt" x="191" y="917">Amazonas</text>
<circle cx="173" cy="934" r="3.5" fill="#3a1880"/><text class="lt" x="191" y="938">Bahia</text>
<circle cx="173" cy="955" r="3.5" fill="#c070d0"/><text class="lt" x="191" y="959">Ceará</text>
<circle cx="266" cy="851" r="3.5" fill="#ffcc22"/><text class="lt" x="285" y="855">Distrito Federal</text>
<circle cx="266" cy="872" r="3.5" fill="#55e055"/><text class="lt" x="285" y="876">Espirito Santo</text>
<circle cx="266" cy="893" r="3.5" fill="#c8960c"/><text class="lt" x="285" y="897">Goiás</text>
<circle cx="266" cy="913" r="3.5" fill="#7a22a8"/><text class="lt" x="285" y="917">Maranhão</text>
<circle cx="266" cy="934" r="3.5" fill="#f5de8a"/><text class="lt" x="285" y="938">Mato Grosso</text>
<circle cx="266" cy="955" r="3.5" fill="#33cc11"/><text class="lt" x="285" y="959">Minas Gerais</text>
<text class="lt" x="403" y="855">Other Countries</text>
<circle cx="384" cy="872" r="3.5" fill="#cc1144"/><text class="lt" x="403" y="876">Para</text>
<circle cx="384" cy="893" r="3.5" fill="#ee88ee"/><text class="lt" x="403" y="897">Paraiba</text>
<circle cx="384" cy="913" r="3.5" fill="#33aaee"/><text class="lt" x="403" y="917">Paraná</text>
<circle cx="384" cy="934" r="3.5" fill="#e040f0"/><text class="lt" x="403" y="938">Pernambuco</text>
<circle cx="384" cy="955" r="3.5" fill="#9a2ab0"/><text class="lt" x="403" y="959">Piaui</text>
<circle cx="504" cy="851" r="3.5" fill="#109010"/><text class="lt" x="523" y="855">Rio de Janeiro</text>
<circle cx="504" cy="872" r="3.5" fill="#dcb4e6"/><text class="lt" x="523" y="876">Rio Grande do Norte</text>
<circle cx="504" cy="893" r="3.5" fill="#0a2350"/><text class="lt" x="523" y="897">Rio Grande do Sul</text>
<circle cx="504" cy="913" r="3.5" fill="#5c1616"/><text class="lt" x="523" y="917">Rondonia</text>
<circle cx="504" cy="934" r="3.5" fill="#cc1111"/><text class="lt" x="523" y="938">Roraima</text>
<circle cx="504" cy="955" r="3.5" fill="#1a70c0"/><text class="lt" x="523" y="959">Santa Catarina</text>
<circle cx="650" cy="851" r="3.5" fill="#0a5e0a"/><text class="lt" x="669" y="855">São Paulo</text>
<circle cx="650" cy="872" r="3.5" fill="#f2e4f2"/><text class="lt" x="669" y="876">Sergipe</text>
<circle cx="650" cy="893" r="3.5" fill="#c04064"/><text class="lt" x="669" y="897">Tocantins</text>
</g>
</g>
</svg>
